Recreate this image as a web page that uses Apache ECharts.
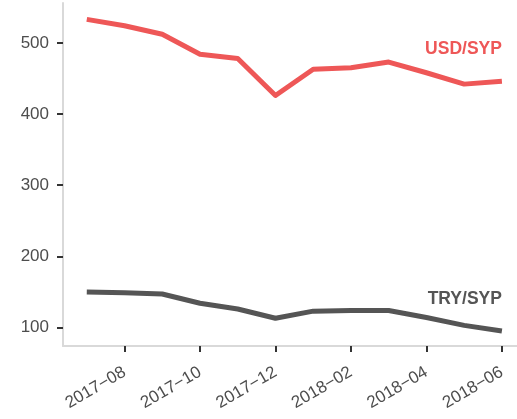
<!DOCTYPE html>
<html>
<head>
<meta charset="utf-8">
<script src="https://cdn.jsdelivr.net/npm/echarts@6/dist/echarts.min.js"></script>
<style>
  html, body { margin: 0; padding: 0; background: #fff; }
  #chart { width: 517px; height: 419px; }
</style>
</head>
<body>
<div id="chart"></div>
<script>
// months Jul 2017 - Jun 2018 (x = index)
const months = ["2017−07", "2017−08", "2017−09", "2017−10", "2017−11", "2017−12",
                "2018−01", "2018−02", "2018−03", "2018−04", "2018−05", "2018−06"];
const usdSyp = [533, 524, 512, 484, 478, 426, 463, 465, 473, 458, 442, 446];
const trySyp = [150, 149, 147, 134, 126, 113, 123, 124, 124, 114, 103, 95];
const xTicks = [1, 3, 5, 7, 9, 11];
const yTicks = [100, 200, 300, 400, 500];

const RED = "#ee5757";
const GREY = "#555555";
const font = "'Liberation Sans', Arial, sans-serif";

function toSeries(name, values, color) {
  const data = values.map((v, i) => {
    const item = { value: [i, v] };
    if (i === values.length - 1) {
      item.label = {
        show: true,
        formatter: name,
        position: "top",
        align: "right",
        distance: 23,
        color: color,
        fontFamily: font,
        fontWeight: "bold",
        fontSize: 17.5
      };
    }
    return item;
  });
  return {
    name: name,
    type: "line",
    data: data,
    symbol: "circle",
    symbolSize: 0,
    showSymbol: true,
    lineStyle: { color: color, width: 5, join: "round" },
    itemStyle: { color: color },
    emphasis: { disabled: true },
    animation: false
  };
}

const chart = echarts.init(document.getElementById("chart"));
chart.setOption({
  animation: false,
  grid: { left: 63, right: 0, top: 3, bottom: 73, containLabel: false },
  xAxis: {
    type: "value",
    min: -0.63,
    max: 11.4,
    axisLine: { show: true, onZero: false, lineStyle: { color: "#d9d9d9", width: 2 } },
    axisTick: { show: true, customValues: xTicks, length: 6, lineStyle: { color: "#333", width: 2 } },
    axisLabel: {
      customValues: xTicks,
      formatter: v => months[Math.round(v)],
      rotate: 30,
      margin: 25,
      color: "#4d4d4d",
      fontSize: 17,
      fontFamily: font
    },
    splitLine: { show: false }
  },
  yAxis: {
    type: "value",
    min: 74,
    max: 556,
    axisLine: { show: true, onZero: false, lineStyle: { color: "#d9d9d9", width: 2 } },
    axisTick: { show: true, customValues: yTicks, length: 6, lineStyle: { color: "#333", width: 2 } },
    axisLabel: {
      customValues: yTicks,
      margin: 14,
      color: "#4d4d4d",
      fontSize: 17,
      fontFamily: font
    },
    splitLine: { show: false }
  },
  series: [
    toSeries("USD/SYP", usdSyp, RED),
    toSeries("TRY/SYP", trySyp, GREY)
  ]
});
</script>
</body>
</html>
